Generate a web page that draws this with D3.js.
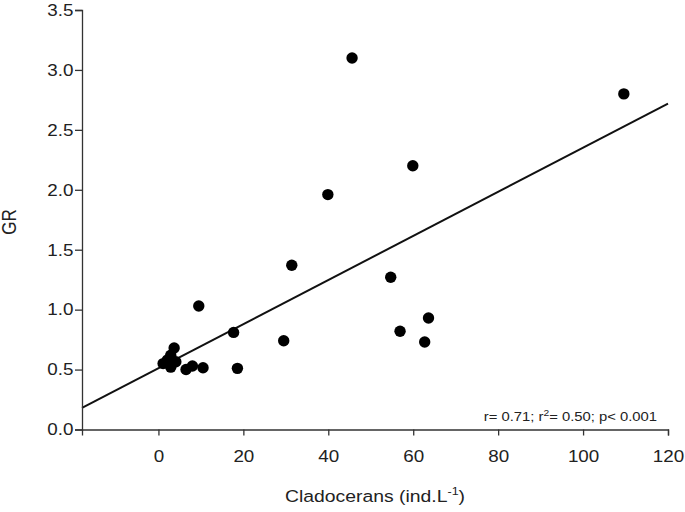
<!DOCTYPE html>
<html>
<head>
<meta charset="utf-8">
<script src="https://cdn.jsdelivr.net/npm/d3@7"></script>
<style>
  body { margin: 0; background: #fff; }
  text { font-family: "Liberation Sans", Arial, sans-serif; fill: #222; }
</style>
</head>
<body>
<div id="chart"></div>
<script>
// Cladocerans density (ind.L-1) vs GR
const cladocerans = [45.6, 109.6, 59.9, 39.9, 31.4, 54.7, 9.5, 17.7, 56.9, 63.6, 62.7, 29.5,
  18.6, 10.5, 8.0, 6.5, 4.1, 3.7, 2.9, 2.1, 2.9, 1.1];
const gr = [3.10, 2.80, 2.20, 1.96, 1.37, 1.27, 1.03, 0.81, 0.82, 0.93, 0.73, 0.74,
  0.51, 0.515, 0.53, 0.50, 0.565, 0.68, 0.62, 0.58, 0.52, 0.55];
const xTicks = [0, 20, 40, 60, 80, 100, 120];
const yTicks = [0.0, 0.5, 1.0, 1.5, 2.0, 2.5, 3.0, 3.5];
// fitted line
const fitIntercept = 0.511;
const fitSlope = 0.0184;
const statsText = ["r= 0.71; r", "2", "= 0.50; p< 0.001"];

const width = 685, height = 512,
      margin = { top: 10, right: 17, bottom: 82.5, left: 82 };
const stretch = 1.14; // the original figure is a little wider than tall in its lettering

const svg = d3.select("#chart").append("svg")
  .attr("width", width)
  .attr("height", height);

const x = d3.scaleLinear()
  .domain([-18, 120])
  .range([margin.left, width - margin.right]);

const y = d3.scaleLinear()
  .domain([0, 3.5])
  .range([height - margin.bottom, margin.top]);

// regression line
svg.append("line")
  .attr("x1", x(-18)).attr("y1", y(fitIntercept + fitSlope * -18))
  .attr("x2", x(120)).attr("y2", y(fitIntercept + fitSlope * 120))
  .attr("stroke", "#111")
  .attr("stroke-width", 2);

// points
svg.append("g")
  .selectAll("circle")
  .data(cladocerans.map((c, i) => ({ c, g: gr[i] })))
  .join("circle")
  .attr("cx", d => x(d.c))
  .attr("cy", d => y(d.g))
  .attr("r", 5.7)
  .attr("fill", "#000");

// X axis
const xAxis = svg.append("g")
  .attr("transform", `translate(0,${height - margin.bottom})`)
  .call(d3.axisBottom(x).tickValues(xTicks).tickSizeOuter(0).tickSize(6).tickPadding(15));

// Y axis
const yAxis = svg.append("g")
  .attr("transform", `translate(${margin.left},0)`)
  .call(d3.axisLeft(y).tickValues(yTicks).tickFormat(d3.format(".1f")).tickSizeOuter(0).tickSize(7).tickPadding(1.5));

[xAxis, yAxis].forEach(a => {
  a.select(".domain").attr("stroke", "#333").attr("stroke-width", 1.3);
  a.selectAll(".tick line").attr("stroke", "#333").attr("stroke-width", 1.3);
  a.selectAll(".tick text")
    .style("font-family", "'Liberation Sans', Arial, sans-serif")
    .style("font-size", "16.5px")
    .attr("fill", "#222")
    .attr("transform", `scale(${stretch},1)`);
});
yAxis.selectAll(".tick text").attr("x", -8.5 / stretch);

// axis titles
const xt = svg.append("text")
  .attr("transform", `translate(375,502) scale(${stretch},1)`)
  .attr("text-anchor", "middle")
  .style("font-size", "17px");
xt.append("tspan").text("Cladocerans (ind.L");
xt.append("tspan").attr("dy", -7).style("font-size", "11px").text("-1");
xt.append("tspan").attr("dy", 7).text(")");

svg.append("text")
  .attr("transform", `translate(16,222) rotate(-90) scale(1,${stretch})`)
  .attr("text-anchor", "middle")
  .style("font-size", "17px")
  .text("GR");

// statistics annotation
const st = svg.append("text")
  .attr("transform", `translate(657,421) scale(${stretch},1)`)
  .attr("text-anchor", "end")
  .style("font-size", "13px");
st.append("tspan").text(statsText[0]);
st.append("tspan").attr("dy", -5).style("font-size", "9px").text(statsText[1]);
st.append("tspan").attr("dy", 5).text(statsText[2]);
</script>
</body>
</html>
